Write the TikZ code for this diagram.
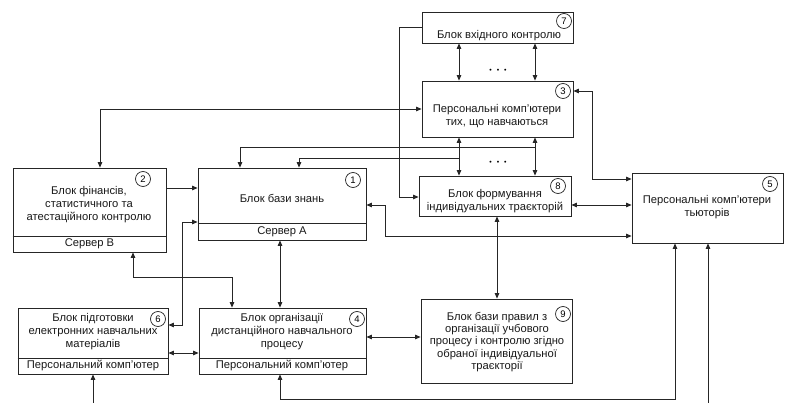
\documentclass[tikz,border=0pt]{standalone}
\usepackage{fontspec}
\setmainfont{Liberation Sans}
\usetikzlibrary{arrows.meta}

\begin{document}
\begin{tikzpicture}[x=1pt,y=-1pt,
  ln/.style={draw=black!85, line width=0.8pt},
  blk/.style={ln, rectangle, inner sep=0pt, fill=white},
  lbl/.style={align=center, font=\fontsize{11.2}{13}\selectfont, text=black!90, inner sep=0pt},
  lbs/.style={lbl, font=\fontsize{11.2}{12.4}\selectfont},
  num/.style={circle, draw=black!85, line width=0.7pt, minimum size=15pt, inner sep=0pt,
              font=\fontsize{9.5}{9.5}\selectfont, fill=white},
  tip/.tip={Triangle[length=5.5pt,width=4.5pt]},
  con/.style={ln, -tip},
  dbl/.style={ln, tip-tip},
  dots/.style={inner sep=0pt, font=\fontsize{7}{7}\selectfont}
]
\useasboundingbox[fill=white] (0,0) rectangle (789,403);

% ---- blocks ----
\node[blk, minimum width=151pt, minimum height=31pt] (b7) at (497.5,27.5) {};
\node[blk, minimum width=151pt, minimum height=56pt] (b3) at (497.5,109) {};
\node[blk, minimum width=152pt, minimum height=40pt] (b8) at (495,196) {};
\node[blk, minimum width=151pt, minimum height=70pt] (b5) at (707.5,208) {};
\node[blk, minimum width=168pt, minimum height=72pt] (b1) at (282,204) {};
\node[blk, minimum width=153pt, minimum height=84pt] (b2) at (89.5,210) {};
\node[blk, minimum width=150pt, minimum height=66pt] (b6) at (93,341) {};
\node[blk, minimum width=167pt, minimum height=66pt] (b4) at (282.5,341) {};
\node[blk, minimum width=151pt, minimum height=84pt] (b9) at (496.5,341) {};

% ---- hardware strips at the bottom of some blocks ----
\draw[ln] ([yshift=17pt]b1.south west) -- ([yshift=17pt]b1.south east);
\draw[ln] ([yshift=16pt]b2.south west) -- ([yshift=16pt]b2.south east);
\draw[ln] ([yshift=16pt]b6.south west) -- ([yshift=16pt]b6.south east);
\draw[ln] ([yshift=16pt]b4.south west) -- ([yshift=16pt]b4.south east);

% ---- texts ----
\node[lbl] (t7) at (499,35.5) {Блок вхідного контролю};
\node[lbl] (t3) at (497,116.5) {Персональні комп'ютери\\тих, що навчаються};
\node[lbl] (t8) at (495,201.5) {Блок формування\\індивідуальних траєкторій};
\node[lbl] (t5) at (707,207.5) {Персональні комп'ютери\\тьюторів};
\node[lbl] (t1) at (282,198) {Блок бази знань};
\node[lbl] (s1) at (282,231.5) {Сервер А};
\node[lbl] (t2) at (89,204.5) {Блок фінансів,\\статистичного та\\атестаційного контролю};
\node[lbl] (s2) at (89.5,244) {Сервер В};
\node[lbl] (t6) at (93,332) {Блок підготовки\\електронних навчальних\\матеріалів};
\node[lbl] (s6) at (93,366) {Персональний комп'ютер};
\node[lbl] (t4) at (282,332) {Блок організації\\дистанційного навчального\\процесу};
\node[lbl] (s4) at (282,366) {Персональний комп'ютер};
\node[lbs] (t9) at (497,342) {Блок бази правил з\\організації учбового\\процесу і контролю згідно\\обраної індивідуальної\\траєкторії};

% ---- block numbers ----
\node[num] (n7) at (564,21) {7};
\node[num] (n3) at (563,91) {3};
\node[num] (n8) at (558,186) {8};
\node[num] (n5) at (770,184) {5};
\node[num] (n1) at (353,180) {1};
\node[num] (n2) at (143,179) {2};
\node[num] (n6) at (158,319) {6};
\node[num] (n4) at (357,319) {4};
\node[num] (n9) at (563,314) {9};

% ---- ellipses between parallel links ----
\node[dots] (d1) at (498,71) {•\hspace{5pt}•\hspace{5pt}•};
\node[dots] (d2) at (498,163) {•\hspace{5pt}•\hspace{5pt}•};

% ---- helper positions ----
\coordinate (xl) at (459,0);
\coordinate (xr) at (535,0);
\coordinate (xa) at (240,0);
\coordinate (xb) at (299,0);
\coordinate (x100) at (100,0);
\coordinate (x133) at (133,0);
\coordinate (x232) at (232,0);
\coordinate (x280) at (280,0);
\coordinate (x497) at (497,0);
\coordinate (x675) at (675,0);
\coordinate (y179) at (0,179);
\coordinate (y188) at (0,188);
\coordinate (y197) at (0,197);
\coordinate (y205) at (0,205);
\coordinate (y222) at (0,222);
\coordinate (y236) at (0,236);
\coordinate (y325) at (0,325);
\coordinate (y337) at (0,337);
\coordinate (y353) at (0,353);
\coordinate (j1) at (535,147);
\coordinate (j2) at (459,158);
\coordinate (in6) at (93,403);
\coordinate (in5) at (708,403);

% ---- connectors ----
\draw[con] (b7.west) -- ++(-22,0) |- (b8.west |- y197);
\draw[dbl] (b7.south -| xl) -- (b3.north -| xl);
\draw[dbl] (b7.south -| xr) -- (b3.north -| xr);
\draw[dbl] (b3.south -| xl) -- (b8.north -| xl);
\draw[dbl] (b3.south -| xr) -- (b8.north -| xr);
\draw[con] (j1) -| (b1.north -| xa);
\draw[con] (j2) -| (b1.north -| xb);
\draw[dbl] (b3.west) -| (b2.north -| x100);
\draw[dbl] (b3.east |- n3) -- ++(19,0) |- (b5.west |- y179);
\draw[dbl] (b8.east |- y205) -- (b5.west |- y205);
\draw[dbl] (b1.east |- y205) -- ++(19,0) |- (b5.west |- y236);
\draw[con] (b2.east |- y188) -- (b1.west |- y188);
\draw[dbl] (b6.east |- y325) -- ++(14,0) |- (b1.west |- y222);
\draw[dbl] (b2.south -| x133) -- ++(0,25) -| (b4.north -| x232);
\draw[dbl] (b1.south -| x280) -- (b4.north -| x280);
\draw[dbl] (b6.east |- y353) -- (b4.west |- y353);
\draw[con] (in6) -- (b6.south -| in6);
\draw[dbl] (b4.south -| x280) -- ++(0,25) -| (b5.south -| x675);
\draw[con] (in5) -- (b5.south -| in5);
\draw[dbl] (b4.east |- y337) -- (b9.west |- y337);
\draw[dbl] (b8.south -| x497) -- (b9.north -| x497);
\end{tikzpicture}
\end{document}
